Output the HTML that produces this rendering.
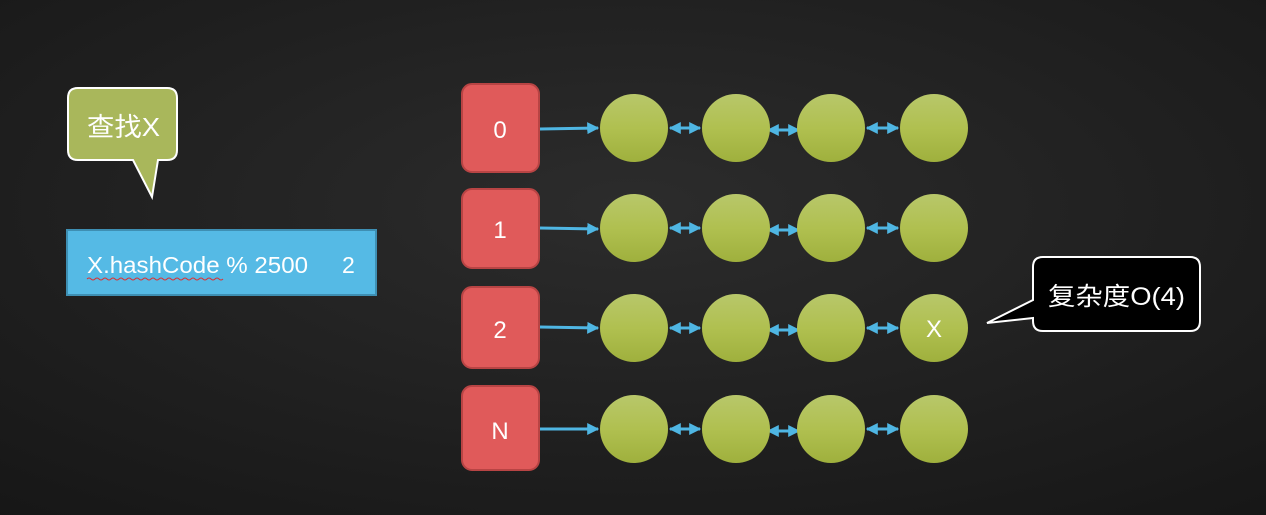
<!DOCTYPE html>
<html><head><meta charset="utf-8"><style>
body{margin:0;width:1266px;height:515px;overflow:hidden;background:#232323;}
svg{display:block}
text{font-family:"Liberation Sans","Noto Sans CJK SC",sans-serif;fill:#fff;}
</style></head><body>
<svg width="1266" height="515" viewBox="0 0 1266 515">
<defs>
<radialGradient id="bg" cx="0.5" cy="0.4" r="0.8">
<stop offset="0" stop-color="#2c2c2c"/><stop offset="1" stop-color="#161616"/>
</radialGradient>
<linearGradient id="g" x1="0" y1="0" x2="0" y2="1">
<stop offset="0" stop-color="#b8c76a"/><stop offset="0.5" stop-color="#b0c050"/><stop offset="1" stop-color="#9fb03d"/>
</linearGradient>
<marker id="ah" viewBox="0 0 10 10" refX="9" refY="5" markerWidth="4" markerHeight="4" orient="auto-start-reverse">
<path d="M0,0L10,5L0,10z" fill="#4fb6e3"/></marker>
</defs>
<rect width="1266" height="515" fill="url(#bg)"/>
<path d="M78,88 H167 Q177,88 177,98 V150 Q177,160 167,160 H158 L152,197 L133,160 H78 Q68,160 68,150 V98 Q68,88 78,88 Z" fill="#a9b75b" stroke="#fff" stroke-width="2"/>
<text x="87" y="136" font-size="26" textLength="73" lengthAdjust="spacingAndGlyphs">查找X</text>
<rect x="67" y="230" width="309" height="65" fill="#55bae5" stroke="#3e8fb3" stroke-width="2"/>
<text x="87" y="273" font-size="23" textLength="221" lengthAdjust="spacingAndGlyphs">X.hashCode % 2500</text>
<text x="342" y="273" font-size="23">2</text>
<path d="M87,279 q2,-2 4,0 t4,0 t4,0 t4,0 t4,0 t4,0 t4,0 t4,0 t4,0 t4,0 t4,0 t4,0 t4,0 t4,0 t4,0 t4,0 t4,0 t4,0 t4,0 t4,0 t4,0 t4,0 t4,0 t4,0 t4,0 t4,0 t4,0 t4,0 t4,0 t4,0 t4,0 t4,0 t4,0 t4,0" fill="none" stroke="#e03030" stroke-width="1"/>
<path d="M1043,257 H1190 Q1200,257 1200,267 V321 Q1200,331 1190,331 H1043 Q1033,331 1033,321 V318 L987,323 L1033,300 V267 Q1033,257 1043,257 Z" fill="#000" stroke="#fff" stroke-width="2"/>
<text x="1048" y="305" font-size="25" textLength="137" lengthAdjust="spacingAndGlyphs">复杂度O(4)</text>
<g>
<rect x="462" y="84" width="77" height="88" rx="10" fill="#e05a5a" stroke="#b84444" stroke-width="2"/>
<text x="500" y="138" font-size="24" text-anchor="middle">0</text>
<rect x="462" y="189" width="77" height="79" rx="10" fill="#e05a5a" stroke="#b84444" stroke-width="2"/>
<text x="500" y="238" font-size="24" text-anchor="middle">1</text>
<rect x="462" y="287" width="77" height="81" rx="10" fill="#e05a5a" stroke="#b84444" stroke-width="2"/>
<text x="500" y="338" font-size="24" text-anchor="middle">2</text>
<rect x="462" y="386" width="77" height="84" rx="10" fill="#e05a5a" stroke="#b84444" stroke-width="2"/>
<text x="500" y="439" font-size="24" text-anchor="middle">N</text>
</g>
<g stroke="#4fb6e3" stroke-width="3" fill="none">
<line x1="540" y1="129" x2="598" y2="128" marker-end="url(#ah)"/>
<line x1="540" y1="228" x2="598" y2="229" marker-end="url(#ah)"/>
<line x1="540" y1="327" x2="598" y2="328" marker-end="url(#ah)"/>
<line x1="540" y1="429" x2="598" y2="429" marker-end="url(#ah)"/>
<g id="a">
<line x1="670" y1="128" x2="700" y2="128" marker-start="url(#ah)" marker-end="url(#ah)"/>
<line x1="768" y1="130" x2="799" y2="130" marker-start="url(#ah)" marker-end="url(#ah)"/>
<line x1="867" y1="128" x2="898" y2="128" marker-start="url(#ah)" marker-end="url(#ah)"/>
</g>
<use href="#a" y="100"/><use href="#a" y="200"/><use href="#a" y="301"/>
</g>
<g fill="url(#g)">
<g id="c"><circle cx="634" cy="128" r="34"/><circle cx="736" cy="128" r="34"/><circle cx="831" cy="128" r="34"/><circle cx="934" cy="128" r="34"/></g>
<use href="#c" y="100"/><use href="#c" y="200"/><use href="#c" y="301"/>
</g>
<text x="934" y="337" font-size="24" text-anchor="middle">X</text>
</svg>
</body></html>
